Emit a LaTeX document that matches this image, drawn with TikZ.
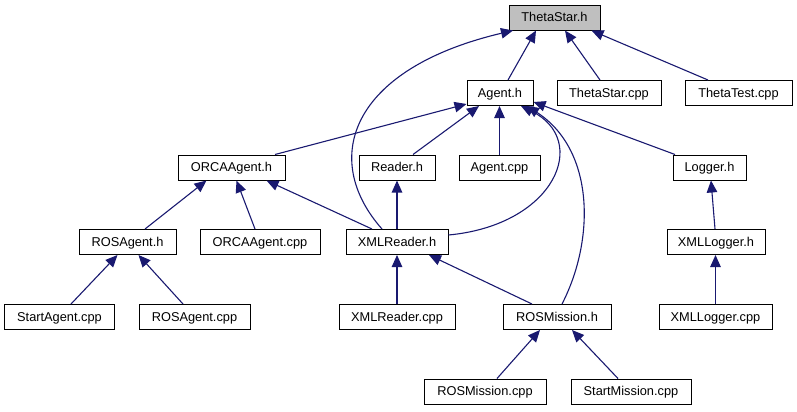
\documentclass[tikz,border=0pt]{standalone}
\usepackage{fontspec}
\setmainfont{Liberation Sans}
\usetikzlibrary{arrows.meta,calc}
\definecolor{edgecol}{HTML}{191970}
\definecolor{rootfill}{HTML}{BFBFBF}
\tikzset{
  box/.style={draw=black, line width=1bp, fill=white, inner sep=0pt, minimum height=25bp,
    text height=11bp, text depth=3bp, font=\fontsize{12.8bp}{15bp}\selectfont},
  rootbox/.style={box, fill=rootfill},
  edge/.style={draw=edgecol, line width=1.1bp, -{Triangle[length=12bp,width=10.5bp]}},
}
\begin{document}
\begin{tikzpicture}[x=1bp,y=-1bp]
\useasboundingbox (0,0) rectangle (797,411);
% row 0
\node[rootbox, minimum width=91bp] (thetastar) at (554.5,17.5) {ThetaStar.h};
% row 1
\node[box, minimum width=66bp] (agent) at (500,93) {Agent.h};
\node[box, minimum width=104bp] (thetastarcpp) at (609,93) {ThetaStar.cpp};
\node[box, minimum width=107bp] (thetatest) at (738.5,93) {ThetaTest.cpp};
% row 2
\node[box, minimum width=107bp] (orcah) at (231.5,167.5) {ORCAAgent.h};
\node[box, minimum width=76bp] (readerh) at (397,167.5) {Reader.h};
\node[box, minimum width=81bp] (agentcpp) at (499.5,167.5) {Agent.cpp};
\node[box, minimum width=73bp] (loggerh) at (709.5,167.5) {Logger.h};
% row 3
\node[box, minimum width=97bp] (rosagenth) at (127.5,242) {ROSAgent.h};
\node[box, minimum width=120bp] (orcacpp) at (260,242) {ORCAAgent.cpp};
\node[box, minimum width=102bp] (xmlreaderh) at (397,242) {XMLReader.h};
\node[box, minimum width=98bp] (xmlloggerh) at (716,242) {XMLLogger.h};
% row 4
\node[box, minimum width=109bp] (startagent) at (59.5,317) {StartAgent.cpp};
\node[box, minimum width=111bp] (rosagentcpp) at (194.5,317) {ROSAgent.cpp};
\node[box, minimum width=116bp] (xmlreadercpp) at (397,317) {XMLReader.cpp};
\node[box, minimum width=108bp] (rosmissionh) at (557,317) {ROSMission.h};
\node[box, minimum width=113bp] (xmlloggercpp) at (715.5,317) {XMLLogger.cpp};
% row 5
\node[box, minimum width=122bp] (rosmissioncpp) at (485,391.5) {ROSMission.cpp};
\node[box, minimum width=120bp] (startmission) at (631,391.5) {StartMission.cpp};

% edges to ThetaStar.h
\draw[edge] ([xshift=8bp]agent.north) -- ([xshift=-18.5bp]thetastar.south);
\draw[edge] ([xshift=-9bp]thetastarcpp.north) -- ([xshift=10.5bp]thetastar.south);
\draw[edge] ([xshift=-30.5bp]thetatest.north) -- ([xshift=37bp]thetastar.south);
\draw[edge] ([xshift=-15bp]xmlreaderh.north) .. controls ($(xmlreaderh.north)+(-77,-70)$) and ($(xmlreaderh.north)+(-47,-160)$) .. ([xshift=-41.5bp]thetastar.south);
% edges to Agent.h
\draw[edge] ([xshift=43.5bp]orcah.north) -- ([yshift=2bp]agent.south west);
\draw[edge] ([xshift=16bp]readerh.north) -- ([xshift=-21bp]agent.south);
\draw[edge] (agentcpp.north) -- (agentcpp.north |- agent.south);
\draw[edge] ([yshift=7bp]xmlreaderh.east) .. controls ($(xmlreaderh.east)+(107,-17)$) and ($(xmlreaderh.east)+(142,-102)$) .. ([xshift=21bp]agent.south);
\draw[edge] ([xshift=5bp]rosmissionh.north) .. controls ($(rosmissionh.north)+(38,-64)$) and ($(rosmissionh.north)+(38,-154)$) .. ([xshift=27bp]agent.south);
\draw[edge] ([xshift=-34.5bp]loggerh.north) -- ([yshift=4bp]agent.south east);
% edges to ORCAAgent.h
\draw[edge] ([xshift=17.5bp]rosagenth.north) -- ([xshift=-25bp]orcah.south);
\draw[edge] ([xshift=-5bp]orcacpp.north) -- ([xshift=5bp]orcah.south);
\draw[edge] ([xshift=-25bp]xmlreaderh.north) -- ([xshift=35bp]orcah.south);
% edge to Reader.h
\draw[edge] (xmlreaderh.north) -- (readerh.south);
% edges to ROSAgent.h
\draw[edge] ([xshift=11.5bp]startagent.north) -- ([xshift=-10bp]rosagenth.south);
\draw[edge] ([xshift=-11.5bp]rosagentcpp.north) -- ([xshift=11bp]rosagenth.south);
% edges to XMLReader.h
\draw[edge] (xmlreadercpp.north) -- (xmlreaderh.south);
\draw[edge] ([xshift=-25bp]rosmissionh.north) -- ([xshift=32bp]xmlreaderh.south);
% edges to Logger.h / XMLLogger.h
\draw[edge] ([xshift=-1bp]xmlloggerh.north) -- ([xshift=1.5bp]loggerh.south);
\draw[edge] (xmlloggercpp.north) -- (xmlloggercpp.north |- xmlloggerh.south);
% edges to ROSMission.h
\draw[edge] ([xshift=12bp]rosmissioncpp.north) -- ([xshift=-17bp]rosmissionh.south);
\draw[edge] ([xshift=-13bp]startmission.north) -- ([xshift=15bp]rosmissionh.south);
\end{tikzpicture}
\end{document}
